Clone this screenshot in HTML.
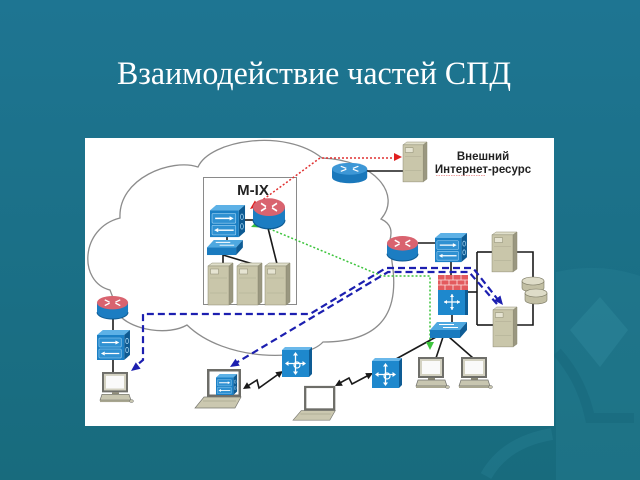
<!DOCTYPE html>
<html><head><meta charset="utf-8"><style>
html,body{margin:0;padding:0;width:640px;height:480px;overflow:hidden;background:#1c7188;}
svg{display:block;}
</style></head><body>
<svg width="640" height="480" viewBox="0 0 640 480" xmlns="http://www.w3.org/2000/svg">
<defs>
<linearGradient id="bg" x1="0" y1="0" x2="0" y2="1"><stop offset="0" stop-color="#1e7592"/><stop offset="1" stop-color="#186b7d"/></linearGradient>
<g id="rt">
 <path d="M0,8 V18 A16,7 0 0 0 32,18 V8 Z" fill="#1c7dc2"/>
 <path d="M0,18 A16,7 0 0 0 32,18" fill="none" stroke="#0e5b93" stroke-width="1"/>
 <ellipse cx="16" cy="8" rx="16" ry="7" fill="#d9636f"/>
 <path d="M8,5 L13,7.5 M24,11 L19,8.5 M24,5 L19,7.5 M8,11 L13,8.5" stroke="#fff" stroke-width="1.4" fill="none"/>
</g>
<g id="rtb">
 <path d="M0,8 V18 A16,7 0 0 0 32,18 V8 Z" fill="#1a78bb"/>
 <ellipse cx="16" cy="8" rx="16" ry="7" fill="#3d97d6"/>
 <path d="M8,5 L13,7.5 M24,11 L19,8.5 M24,5 L19,7.5 M8,11 L13,8.5" stroke="#fff" stroke-width="1.4" fill="none"/>
</g>
<g id="ml">
 <polygon points="0,5 6,0 34,0 28,5" fill="#5db1e6"/>
 <polygon points="28,5 34,0 34,25 28,30" fill="#0d5a92"/>
 <rect x="0" y="5" width="28" height="25" fill="#1b80c5"/>
 <rect x="2" y="8" width="23" height="9" rx="1" fill="#2f91d2" stroke="#9fd3f5" stroke-width=".6"/>
 <rect x="2" y="19" width="23" height="9" rx="1" fill="#2f91d2" stroke="#9fd3f5" stroke-width=".6"/>
 <path d="M5,12.5 H20 M8,23.5 H23" stroke="#fff" stroke-width="1.3"/>
 <polygon points="23,12.5 19,10.5 19,14.5" fill="#fff"/>
 <polygon points="4,23.5 8,21.5 8,25.5" fill="#fff"/>
 <ellipse cx="31" cy="11" rx="1.4" ry="2.6" fill="none" stroke="#a8d8f5" stroke-width=".7"/>
 <ellipse cx="31" cy="20" rx="1.4" ry="2.6" fill="none" stroke="#a8d8f5" stroke-width=".7"/>
</g>
<g id="wg">
 <polygon points="7,0 37,0 30,8 0,8" fill="#4ea8e0"/>
 <polygon points="30,8 37,0 37,8 30,16" fill="#0e5c95"/>
 <rect x="0" y="8" width="30" height="8" fill="#1a7bbf"/>
 <path d="M9,2.5 H24 M28,5.5 H13" stroke="#fff" stroke-width="1"/>
</g>
<g id="sv">
 <polygon points="0,3 4,0 25,0 21,3" fill="#e0dfcb" stroke="#8b8970" stroke-width=".5"/>
 <polygon points="21,3 25,0 25,39 21,42" fill="#9a9780" stroke="#8b8970" stroke-width=".5"/>
 <rect x="0" y="3" width="21" height="39" fill="#c9c6aa" stroke="#8b8970" stroke-width=".5"/>
 <rect x="2.5" y="6" width="8" height="5" fill="#e6e4d2" stroke="#8b8970" stroke-width=".5"/>
 <path d="M2,15 H19 M2,30 H19" stroke="#aeab92" stroke-width=".6"/>
</g>
<g id="pc">
 <rect x="3" y="0" width="26" height="21" fill="#6f6f6a"/>
 <rect x="5" y="2" width="22" height="17" fill="#d4d2c2"/>
 <rect x="7" y="4" width="18" height="13" fill="#fafafa"/>
 <rect x="13" y="21" width="7" height="2" fill="#8d8b78"/>
 <polygon points="3,23 30,23 32,29 1,29" fill="#c8c6b0" stroke="#6f6f6a" stroke-width=".7"/>
 <rect x="1" y="29" width="31" height="2" fill="#a8a690"/>
 <ellipse cx="32.5" cy="30" rx="2" ry="1.5" fill="#c8c6b0" stroke="#6f6f6a" stroke-width=".5"/>
</g>
<g id="lt">
 <rect x="12" y="1" width="34" height="28" fill="#6d6d68"/>
 <rect x="14.5" y="3.5" width="29" height="23" fill="#fff"/>
 <polygon points="9,29 46,29 40,40 0,40" fill="#cbc8b0" stroke="#77776f" stroke-width=".7"/>
 <path d="M8,33 H41" stroke="#9a9880" stroke-width=".6"/>
</g>
<g id="bq">
 <polygon points="0,3 3,0 30,0 27,3" fill="#6ab8ea"/>
 <polygon points="27,3 30,0 30,27 27,30" fill="#0e5c95"/>
 <rect x="0" y="3" width="27" height="27" fill="#1e88cd"/>
 <path d="M13.5,16.5 V8 M13.5,16.5 V25 M13.5,16.5 H5 M13.5,16.5 H22" stroke="#fff" stroke-width="1.3" fill="none"/>
 <circle cx="15" cy="18" r="3" stroke="#fff" stroke-width="1.2" fill="none"/>
 <polygon points="13.5,5 11,8.5 16,8.5" fill="#fff"/>
 <polygon points="13.5,28 11,24.5 16,24.5" fill="#fff"/>
 <polygon points="3,16.5 6.5,14 6.5,19" fill="#fff"/>
 <polygon points="24,16.5 20.5,14 20.5,19" fill="#fff"/>
</g>
<g id="dk">
 <path d="M0,4 V11 A11,4 0 0 0 22,11 V4 Z" fill="#c2bfa4" stroke="#7a7862" stroke-width=".6"/>
 <ellipse cx="11" cy="4" rx="11" ry="4" fill="#dedcc8" stroke="#7a7862" stroke-width=".6"/>
</g>
</defs>

<rect width="640" height="480" fill="url(#bg)"/>
<!-- decorative (kept inside frame) -->
<path d="M556,272 Q600,262 640,276 L640,480 L556,480 Z" fill="#2a8398" opacity="0.3"/>
<polygon points="570,330 600,297 628,330 600,367" fill="#3a96a8" opacity="0.28"/>
<path d="M557,352 Q582,380 590,418 L634,418" fill="none" stroke="#16677a" stroke-width="10" opacity="0.45"/>
<path d="M486,476 Q505,442 552,434" fill="none" stroke="#2a8398" stroke-width="12" opacity="0.35"/>

<text x="117" y="84" font-family="Liberation Serif, serif" font-size="33" fill="#ffffff" textLength="394" lengthAdjust="spacingAndGlyphs">Взаимодействие частей СПД</text>

<rect x="85" y="138" width="469" height="288" fill="#ffffff"/>

<!-- cloud -->
<path d="M198,167 C210,140 285,128 322,158 C375,160 402,195 381,219 C392,224 392,232 390,240 L392,262 C398,300 392,342 323,342 C305,362 225,362 187,325 C168,336 133,330 120,316 L110,290 C78,282 80,228 120,218 C118,178 172,158 198,167 Z" fill="#fff" stroke="#8c8c8c" stroke-width="1.3"/>

<!-- M-IX box -->
<rect x="203.5" y="177.5" width="93" height="127" fill="#fff" stroke="#8a8a8a" stroke-width="1"/>
<text x="253" y="195" font-family="Liberation Sans, sans-serif" font-size="15" font-weight="bold" fill="#222" text-anchor="middle">M-IX</text>

<!-- labels -->
<text x="483" y="160" font-family="Liberation Sans, sans-serif" font-size="11.5" font-weight="bold" fill="#222" text-anchor="middle">Внешний</text>
<text x="483" y="173" font-family="Liberation Sans, sans-serif" font-size="11.5" font-weight="bold" fill="#222" text-anchor="middle">Интернет-ресурс</text>
<path d="M436,175.5 H486" stroke="#e05050" stroke-width=".8" stroke-dasharray="1.5,1" opacity=".7"/>

<!-- black connections -->
<g stroke="#1a1a1a" stroke-width="1.6" fill="none">
 <path d="M245,220 H254"/>
 <path d="M268,228 L277,264"/>
 <path d="M227,236 V241"/>
 <path d="M223,254 V264"/>
 <path d="M223,255 L253,264"/>
 <path d="M367,171 H403"/>
 <path d="M418,243 H436"/>
 <path d="M451,261 V276"/>
 <path d="M452,314 V323"/>
 <path d="M468,292 H477"/>
 <path d="M477,252 V325"/>
 <path d="M477,252 H493"/>
 <path d="M477,325 H493"/>
 <path d="M517,252 H533 V325 H517"/>
 <path d="M436,337 L396,359"/>
 <path d="M443,337 L436,358"/>
 <path d="M449,337 L473,358"/>
 <path d="M113,319 V331"/>
 <path d="M113,360 V373"/>
 <path d="M246,387 L257,380 L259,388 L280,373"/>
 <path d="M338,384 L349,378 L352,384 L369,375"/>
</g>
<g fill="#1a1a1a">
 <polygon points="243,389 250.8,388.2 247,382.2"/>
 <polygon points="283,371 279.3,377.9 275.3,372.2"/>
 <polygon points="335,386 342.8,385.7 339.4,379.5"/>
 <polygon points="373,373 368.4,379.3 365.2,373.1"/>
</g>

<!-- dotted lines -->
<path d="M258,224 L382,276 H430 V342" fill="none" stroke="#3cc43c" stroke-width="1.5" stroke-dasharray="2,2"/>
<path d="M257,204 L320,158 H395" fill="none" stroke="#e03030" stroke-width="1.5" stroke-dasharray="2,2"/>
<polygon points="251,227 260.8,227.6 258,220.1" fill="#3cc43c"/>
<polygon points="430,350 426,342 434,342" fill="#3cc43c"/>
<polygon points="250,209 259.7,206.9 254.9,200.5" fill="#e02020"/>
<polygon points="402,157 394,153 394,161" fill="#e02020"/>

<!-- dashed blue lines -->
<g fill="none" stroke="#1c1fb0" stroke-width="2.2" stroke-dasharray="7,4">
 <path d="M499,301 L473,268 L386,268 L310,314 L143,314 L143,360 L137,365"/>
 <path d="M497,304 L469,272 L388,272 L236,363"/>
</g>
<g fill="#1c1fb0">
 <polygon points="131,371 140.6,368.8 135.8,362.4"/>
 <polygon points="230,367 239.7,365.6 235.5,358.8"/>
 <polygon points="503,305 500.4,295.5 494.2,300.5"/>
</g>

<!-- icons: M-IX -->
<use href="#ml" transform="translate(210,205) scale(1.03,1.07)"/>
<use href="#rt" transform="translate(253,197) scale(1,1.27)"/>
<use href="#wg" transform="translate(207,240) scale(0.97,0.94)"/>
<use href="#sv" transform="translate(208,263)"/>
<use href="#sv" transform="translate(237,263)"/>
<use href="#sv" transform="translate(265,263)"/>

<!-- top -->
<use href="#rtb" transform="translate(332,162) scale(1.1,0.85)"/>
<use href="#sv" transform="translate(403,142) scale(0.96,0.95)"/>

<!-- right -->
<use href="#rt" transform="translate(387,235) scale(0.97,1.04)"/>
<use href="#ml" transform="translate(435,233) scale(0.94,0.97)"/>
<g transform="translate(438,275)">
 <rect x="0" y="0" width="30" height="15" fill="#e35a5e"/>
 <path d="M0,5 H30 M0,10 H30 M7,0 V5 M15,0 V5 M23,0 V5 M3,5 V10 M11,5 V10 M19,5 V10 M27,5 V10 M7,10 V15 M15,10 V15 M23,10 V15" stroke="#fbe0e0" stroke-width=".8"/>
 <rect x="0" y="15" width="30" height="25" fill="#1e88cd"/>
 <rect x="27" y="15" width="3" height="25" fill="#0e5c95"/>
 <path d="M6,27 H22 M14,19 V35" stroke="#fff" stroke-width="1.2"/>
 <polygon points="6,27 9,25 9,29" fill="#fff"/>
 <polygon points="22,27 19,25 19,29" fill="#fff"/>
 <polygon points="14,19 12,22 16,22" fill="#fff"/>
 <polygon points="14,35 12,32 16,32" fill="#fff"/>
</g>
<use href="#wg" transform="translate(430,322)"/>
<use href="#sv" transform="translate(492,232) scale(1,0.95)"/>
<use href="#sv" transform="translate(493,307) scale(0.96,0.95)"/>
<use href="#dk" transform="translate(522,277)"/>
<use href="#dk" transform="translate(525,289)"/>

<!-- left -->
<use href="#rt" transform="translate(97,295) scale(0.97,0.96)"/>
<use href="#ml" transform="translate(97,330) scale(0.97,1)"/>
<use href="#pc" transform="translate(99,372) scale(1,0.97)"/>

<!-- bottom -->
<use href="#lt" transform="translate(195,368)"/>
<use href="#ml" transform="translate(216,374) scale(0.62,0.7)"/>
<use href="#bq" transform="translate(282,347)"/>
<use href="#bq" transform="translate(372,358)"/>
<use href="#lt" transform="translate(293,385) scale(0.92,0.88)"/>
<use href="#pc" transform="translate(415,357)"/>
<use href="#pc" transform="translate(458,357)"/>
</svg>
</body></html>
